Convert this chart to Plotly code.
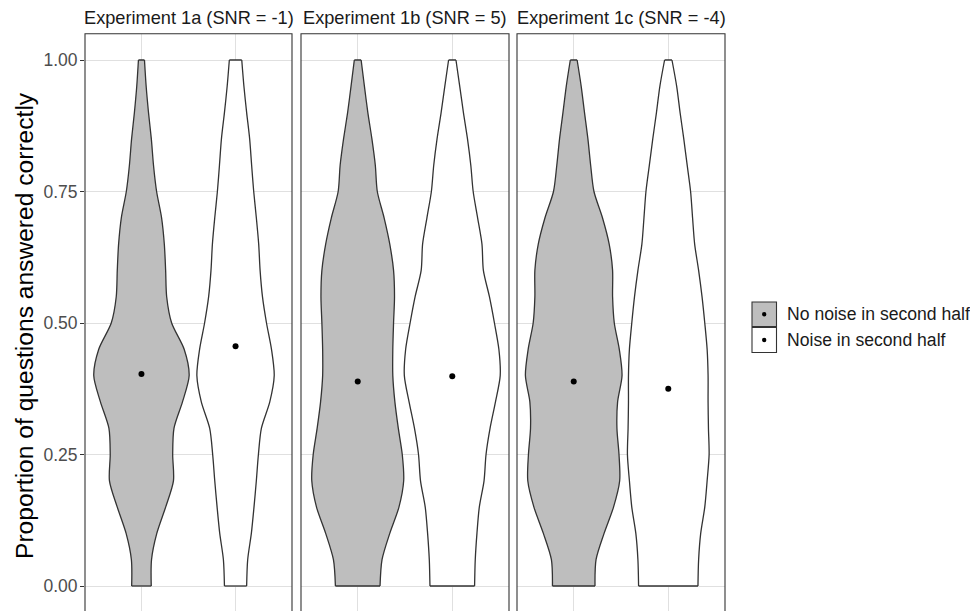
import plotly.graph_objects as go

W, H = 978, 611
OX, OY = 8, 8  # page body margin in the browser

# ---- data ----
panel_titles = ["Experiment 1a (SNR = -1)", "Experiment 1b (SNR = 5)", "Experiment 1c (SNR = -4)"]
conditions = ["No noise in second half", "Noise in second half"]
condition_fill = ["#bebebe", "#ffffff"]

# proportion levels at which violin half-widths were read
y_levels = [0.00, 0.05, 0.10, 0.15, 0.20, 0.25, 0.30, 0.35, 0.40, 0.45, 0.50,
            0.55, 0.60, 0.65, 0.70, 0.75, 0.80, 0.85, 0.90, 0.95, 1.00]

# violin half-widths (x-axis units) at each y level
w_1a_nonoise = [0.104, 0.107, 0.163, 0.257, 0.340, 0.332, 0.346, 0.436, 0.507, 0.454, 0.321,
                0.268, 0.257, 0.243, 0.214, 0.161, 0.128, 0.105, 0.075, 0.050, 0.032]
w_1a_noise = [0.118, 0.129, 0.168, 0.196, 0.221, 0.243, 0.275, 0.364, 0.411, 0.382, 0.329,
              0.286, 0.261, 0.246, 0.221, 0.193, 0.171, 0.150, 0.118, 0.089, 0.066]
w_1b_nonoise = [0.236, 0.257, 0.339, 0.436, 0.486, 0.471, 0.429, 0.393, 0.371, 0.371, 0.379,
                0.389, 0.379, 0.339, 0.279, 0.207, 0.186, 0.150, 0.107, 0.071, 0.036]
w_1b_noise = [0.236, 0.243, 0.261, 0.286, 0.336, 0.357, 0.400, 0.457, 0.507, 0.493, 0.446,
              0.393, 0.329, 0.314, 0.268, 0.221, 0.196, 0.161, 0.118, 0.079, 0.039]
w_1c_nonoise = [0.225, 0.236, 0.321, 0.421, 0.486, 0.479, 0.457, 0.464, 0.511, 0.482, 0.429,
                0.411, 0.411, 0.375, 0.304, 0.214, 0.179, 0.150, 0.114, 0.079, 0.036]
w_1c_noise = [0.314, 0.321, 0.343, 0.386, 0.411, 0.432, 0.425, 0.421, 0.421, 0.411, 0.386,
              0.357, 0.321, 0.279, 0.257, 0.236, 0.200, 0.164, 0.125, 0.089, 0.039]

widths = [[w_1a_nonoise, w_1a_noise], [w_1b_nonoise, w_1b_noise], [w_1c_nonoise, w_1c_noise]]

# mean proportion correct (dots)
means_1a = [0.403, 0.456]
means_1b = [0.389, 0.399]
means_1c = [0.389, 0.375]
means = [means_1a, means_1b, means_1c]

y_ticks = [0.00, 0.25, 0.50, 0.75, 1.00]
y_tick_labels = ["0.00", "0.25", "0.50", "0.75", "1.00"]


# ---- helpers: screen px -> paper ----
def px(sx):
    return (sx - OX) / W


def py(sy):
    return 1 - (sy - OY) / H


# ---- layout geometry (screen pixels) ----
panel_px = [(85, 292), (301, 509), (517, 725)]
y_top_px = 33.7
y0_px, y1_px = 586, 60  # screen rows of value 0 and value 1
unit = y0_px - y1_px
y_dom = [0, py(y_top_px)]
y_rng = [(y0_px - (OY + H)) / unit, (y0_px - y_top_px) / unit]

fig = go.Figure()
line_col = "#333333"
grid_col = "#e0e0e0"
lw = 1.3

for p in range(3):
    xa = "x" if p == 0 else f"x{p+1}"
    ya = "y" if p == 0 else f"y{p+1}"
    for c in range(2):
        centre = c + 1
        w = widths[p][c]
        left = [centre - v for v in w]
        right = [centre + v for v in w]
        # fill region between the two smooth edges
        fig.add_trace(go.Scatter(
            x=left, y=y_levels, xaxis=xa, yaxis=ya, mode="lines",
            line=dict(color="rgba(0,0,0,0)", width=0, shape="spline", smoothing=0.8),
            showlegend=False, hoverinfo="skip"))
        fig.add_trace(go.Scatter(
            x=right, y=y_levels, xaxis=xa, yaxis=ya, mode="lines",
            line=dict(color="rgba(0,0,0,0)", width=0, shape="spline", smoothing=0.8),
            fill="tonextx", fillcolor=condition_fill[c],
            showlegend=False, hoverinfo="skip"))
        # outline: two smooth sides + flat trimmed ends
        fig.add_trace(go.Scatter(
            x=left + [None] + right, y=y_levels + [None] + y_levels,
            xaxis=xa, yaxis=ya, mode="lines", connectgaps=False,
            line=dict(color=line_col, width=lw, shape="spline", smoothing=0.8),
            showlegend=False, hoverinfo="skip"))
        fig.add_trace(go.Scatter(
            x=[left[0], right[0], None, left[-1], right[-1]],
            y=[y_levels[0], y_levels[0], None, y_levels[-1], y_levels[-1]],
            xaxis=xa, yaxis=ya, mode="lines", connectgaps=False,
            line=dict(color=line_col, width=lw),
            showlegend=False, hoverinfo="skip"))
    fig.add_trace(go.Scatter(
        x=[1, 2], y=means[p], xaxis=xa, yaxis=ya, mode="markers",
        marker=dict(color="black", size=6), showlegend=False, hoverinfo="skip"))

layout = dict(
    width=W, height=H, margin=dict(l=0, r=0, t=0, b=0),
    paper_bgcolor="white", plot_bgcolor="white",
    font=dict(family="Liberation Sans, Arial, Helvetica, sans-serif", color="#1a1a1a"),
    showlegend=False,
)
shapes = []
annotations = []
for p, (x0, x1) in enumerate(panel_px):
    k = "" if p == 0 else str(p + 1)
    layout["xaxis" + k] = dict(
        domain=[px(x0), px(x1)], range=[0.4, 2.6], tickvals=[1, 2],
        showticklabels=False, ticks="", showgrid=True, gridcolor=grid_col,
        gridwidth=1, zeroline=False, showline=False, anchor="y" + k)
    layout["yaxis" + k] = dict(
        domain=y_dom, range=y_rng, tickvals=y_ticks, ticktext=y_tick_labels,
        showticklabels=(p == 0), ticks="outside" if p == 0 else "",
        ticklen=4, tickcolor=line_col, tickwidth=1,
        tickfont=dict(size=17.5, color="#4d4d4d"), ticklabelstandoff=-1,
        showgrid=True, gridcolor=grid_col, gridwidth=1, zeroline=False,
        showline=False, anchor="x" + k)
    shapes.append(dict(type="rect", xref="paper", yref="paper",
                       x0=px(x0), x1=px(x1), y0=-0.02, y1=y_dom[1],
                       line=dict(color=line_col, width=1.1), fillcolor="rgba(0,0,0,0)",
                       layer="above"))
    annotations.append(dict(text=panel_titles[p], xref="paper", yref="paper",
                            x=px((x0 + x1) / 2), y=py(18), xanchor="center",
                            yanchor="middle", showarrow=False,
                            font=dict(size=18.2, color="#1a1a1a")))

annotations.append(dict(text="Proportion of questions answered correctly",
                        xref="paper", yref="paper", x=px(24), y=py(326),
                        xanchor="center", yanchor="middle", textangle=-90,
                        showarrow=False, font=dict(size=24.6, color="black")))

# legend (drawn manually: key box with a dot, then label)
key_rows_px = [(302, 326.5), (327.5, 352.5)]
for c, (t, b) in enumerate(key_rows_px):
    shapes.append(dict(type="rect", xref="paper", yref="paper",
                       x0=px(752), x1=px(776.5), y0=py(b), y1=py(t),
                       line=dict(color=line_col, width=1.1), fillcolor=condition_fill[c]))
    cy = (t + b) / 2
    shapes.append(dict(type="circle", xref="paper", yref="paper",
                       x0=px(764.2 - 2.2), x1=px(764.2 + 2.2),
                       y0=py(cy + 2.2), y1=py(cy - 2.2),
                       line=dict(color="black", width=0), fillcolor="black"))
    annotations.append(dict(text=conditions[c], xref="paper", yref="paper",
                            x=px(784.5), y=py(cy), xanchor="left", yanchor="middle",
                            showarrow=False, font=dict(size=17.6, color="#1a1a1a")))

layout["shapes"] = shapes
layout["annotations"] = annotations
fig.update_layout(**layout)
fig.write_html("out.html")
